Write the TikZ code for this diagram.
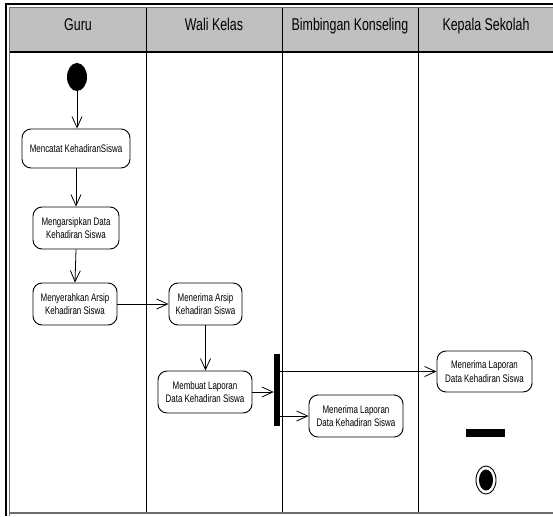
\documentclass[tikz,border=0pt]{standalone}
\usepackage{fontspec}
\setmainfont[FakeStretch=0.73]{Liberation Sans}
\usetikzlibrary{arrows.meta,shapes.geometric}
\definecolor{lanehead}{RGB}{192,192,192}
\definecolor{frameinner}{RGB}{110,110,110}
\begin{document}
\begin{tikzpicture}[x=1pt,y=-1pt,
  lanetitle/.style={font=\fontsize{17}{20}\selectfont, anchor=base, inner sep=0pt},
  action/.style={draw, line width=0.9pt, rounded corners=9pt, align=center,
    inner sep=0pt, font=\fontsize{10.9}{13.3}\selectfont},
  flow/.style={line width=0.8pt, -{Straight Barb[length=11pt,width=10pt,line width=0.8pt]}},
  bar/.style={fill=black, draw=none, inner sep=0pt, rectangle},
  lane/.style={line width=0.9pt}]
\useasboundingbox (0,0) rectangle (553,516);

% swimlane frame and header band
\fill[lanehead] (10,8) rectangle (553,52);
\draw[line width=1.4pt] (6,516) -- (6,4) -- (553,4);
\draw[frameinner, line width=1pt] (9.5,516) -- (9.5,7.5) -- (553,7.5);
\draw[line width=1.3pt] (10,52) -- (553,52);
\draw[frameinner, line width=2pt] (10,513) -- (553,513);
\foreach \lx in {146,282,418} \draw[lane] (\lx,8) -- (\lx,512);

% lane titles
\node[lanetitle] (tguru) at (78,30.5) {Guru};
\node[lanetitle] (twali) at (214,30.5) {Wali Kelas};
\node[lanetitle] (tbk) at (350,30.5) {Bimbingan Konseling};
\node[lanetitle] (tkepsek) at (486,30.5) {Kepala Sekolah};

% initial node
\node[ellipse, fill=black, inner sep=0pt, minimum width=20pt, minimum height=28pt] (start) at (77,77) {};

% actions
\node[action, minimum width=108pt, minimum height=39pt] (catat) at (76,148.5) {Mencatat KehadiranSiswa};
\node[action, minimum width=86pt, minimum height=42pt] (arsip) at (76,228) {Mengarsipkan Data\\Kehadiran Siswa};
\node[action, minimum width=84pt, minimum height=42pt] (serah) at (75,304) {Menyerahkan Arsip\\Kehadiran Siswa};
\node[action, minimum width=73pt, minimum height=42pt] (terima) at (205.5,304) {Menerima Arsip\\Kehadiran Siswa};
\node[action, minimum width=94pt, minimum height=42pt] (buat) at (205,392) {Membuat Laporan\\Data Kehadiran Siswa};
\node[bar, minimum width=6pt, minimum height=72pt] (fork) at (277,390) {};
\node[action, minimum width=94pt, minimum height=42pt] (lapbk) at (356,416) {Menerima Laporan\\Data Kehadiran Siswa};
\node[action, minimum width=95pt, minimum height=41pt] (lapks) at (484.5,371.5) {Menerima Laporan\\Data Kehadiran Siswa};

% closing bar and final node
\node[bar, minimum width=39pt, minimum height=8pt] (endbar) at (485.5,433) {};
\node[ellipse, draw, line width=0.9pt, inner sep=0pt, minimum width=20pt, minimum height=28pt] (final) at (486,480) {};
\node[ellipse, fill=black, inner sep=0pt, minimum width=14pt, minimum height=21pt] (finaldot) at (final.center) {};

% control flow
\draw[flow] (start.south) -- (start.south |- catat.north);
\draw[flow] (catat.south) -- (arsip.north);
\draw[flow] (arsip.south) -- (serah.north);
\draw[flow] (serah.east) -- (serah.east -| terima.west);
\draw[flow] (terima.south) -- (terima.south |- buat.north);
\draw[flow] (buat.east) -- (buat.east -| fork.west);
\draw[flow] (fork.east |- lapks.west) -- (lapks.west);
\draw[flow] (fork.east |- lapbk.west) -- (lapbk.west);
\end{tikzpicture}
\end{document}
